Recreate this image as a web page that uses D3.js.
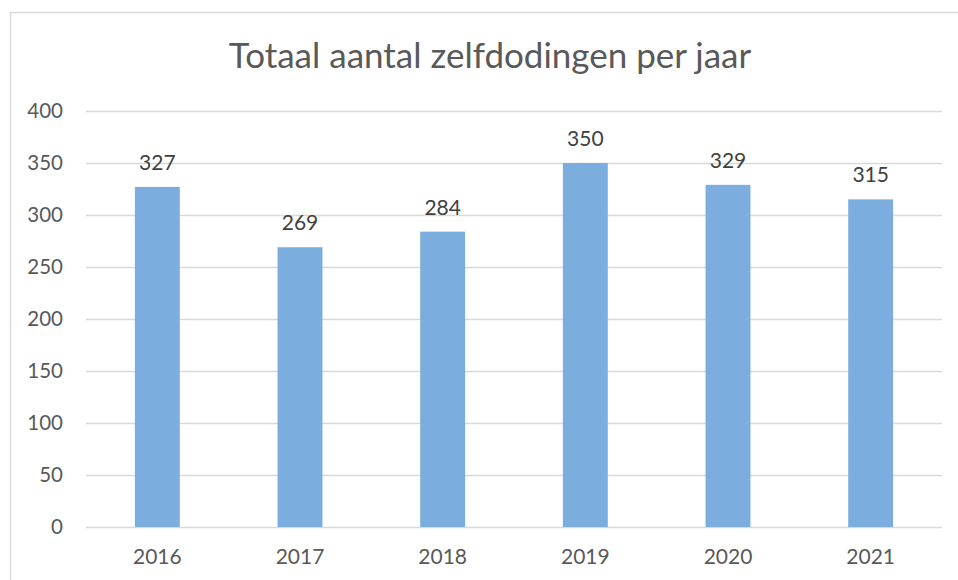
<!DOCTYPE html>
<html>
<head>
<meta charset="utf-8">
<script src="https://cdn.jsdelivr.net/npm/d3@7"></script>
<style>
  body { margin: 0; background: #fff; }
  svg { display: block; font-family: Lato, "Open Sans", sans-serif; }
</style>
</head>
<body>
<div id="chart"></div>
<script>
const years = ["2016", "2017", "2018", "2019", "2020", "2021"];
const values = [327, 269, 284, 350, 329, 315];
const yTicks = [0, 50, 100, 150, 200, 250, 300, 350, 400];
const title = "Totaal aantal zelfdodingen per jaar";

const width = 958, height = 580;
const margin = { top: 111, right: 16, bottom: 53, left: 86 };
const innerWidth = width - margin.left - margin.right;
const innerHeight = height - margin.top - margin.bottom;

const svg = d3.select("#chart").append("svg")
  .attr("width", width)
  .attr("height", height);

// chart frame: only the left and top edges fall inside the picture
svg.append("path")
  .attr("d", `M10.5,${height} V12.5 H${width}`)
  .attr("fill", "none")
  .attr("stroke", "#d9d9d9")
  .attr("stroke-width", 1.5);

svg.append("text")
  .attr("x", 490)
  .attr("y", 68)
  .attr("text-anchor", "middle")
  .attr("fill", "#595959")
  .style("font-size", "35px")
  .text(title);

const chart = svg.append("g")
  .attr("transform", `translate(${margin.left},${margin.top})`);

const x = d3.scaleBand()
  .domain(years)
  .range([0, innerWidth])
  .paddingInner(0.685)
  .paddingOuter(0.3425);

const y = d3.scaleLinear()
  .domain([0, 400])
  .range([innerHeight, 0]);

// gridlines
chart.append("g")
  .selectAll("line")
  .data(yTicks)
  .join("line")
  .attr("x1", 0)
  .attr("x2", innerWidth)
  .attr("y1", (d) => Math.round(y(d)) + 0.5)
  .attr("y2", (d) => Math.round(y(d)) + 0.5)
  .attr("stroke", "#d9d9d9")
  .attr("stroke-width", 1.5);

const yAxis = chart.append("g")
  .call(d3.axisLeft(y).tickValues(yTicks).tickSize(0).tickPadding(23));
yAxis.select(".domain").remove();
yAxis.selectAll("text")
  .attr("fill", "#595959")
  .style("font-size", "20.5px")
  .style("font-family", "Lato, sans-serif");

chart.append("g")
  .selectAll("rect")
  .data(values)
  .join("rect")
  .attr("x", (d, i) => x(years[i]))
  .attr("y", (d) => y(d))
  .attr("width", x.bandwidth())
  .attr("height", (d) => innerHeight - y(d))
  .attr("fill", "#7badde");

chart.append("g")
  .selectAll("text")
  .data(values)
  .join("text")
  .attr("x", (d, i) => x(years[i]) + x.bandwidth() / 2)
  .attr("y", (d) => y(d) - 17)
  .attr("text-anchor", "middle")
  .attr("fill", "#404040")
  .style("font-size", "21px")
  .text((d) => d);

const xAxis = chart.append("g")
  .attr("transform", `translate(0,${innerHeight})`)
  .call(d3.axisBottom(x).tickSize(0).tickPadding(22));
xAxis.select(".domain").remove();
xAxis.selectAll("text")
  .attr("fill", "#595959")
  .style("font-size", "21px")
  .style("font-family", "Lato, sans-serif");
</script>
</body>
</html>
